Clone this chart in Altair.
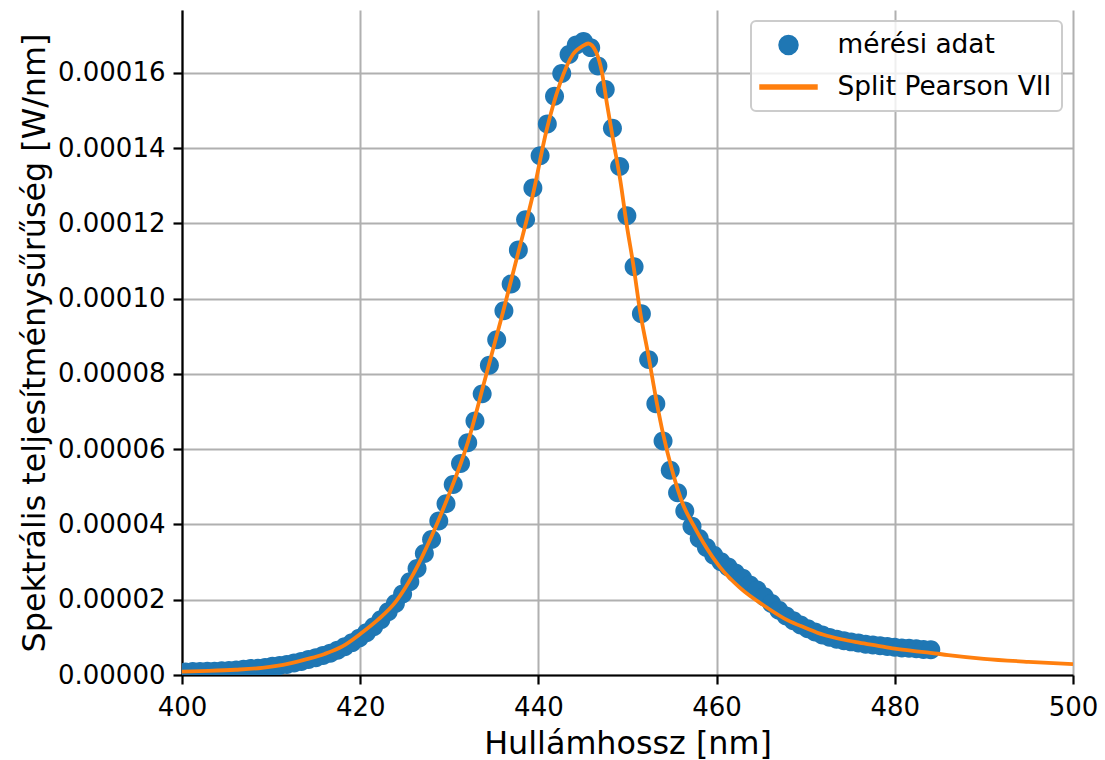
import altair as alt
import pandas as pd

# ---- measured data (x in nm, y in units of 1e-5 W/nm) ----
x_meres = [400.40, 401.21, 402.02, 402.84, 403.65, 404.46, 405.27, 406.08, 406.90, 407.71,
           408.52, 409.33, 410.14, 410.96, 411.77, 412.58, 413.39, 414.20, 415.02, 415.83,
           416.64, 417.45, 418.26, 419.08, 419.89, 420.70, 421.51, 422.32, 423.14, 423.95,
           424.76, 425.57, 426.38, 427.20, 428.01, 428.82, 429.63, 430.44, 431.26, 432.07,
           432.88, 433.69, 434.50, 435.32, 436.13, 436.94, 437.75, 438.56, 439.38, 440.19,
           441.00, 441.81, 442.62, 443.44, 444.25, 445.06, 445.87, 446.68, 447.50, 448.31,
           449.12, 449.93, 450.74, 451.56, 452.37, 453.18, 453.99, 454.80, 455.62, 456.43,
           457.24, 458.05, 458.86, 459.68, 460.49, 461.30, 462.11, 462.92, 463.74, 464.55,
           465.36, 466.17, 466.98, 467.80, 468.61, 469.42, 470.23, 471.04, 471.86, 472.67,
           473.48, 474.29, 475.10, 475.92, 476.73, 477.54, 478.35, 479.16, 479.98, 480.79,
           481.60, 482.41, 483.22, 484.04]
y_meres_e5 = [0.08, 0.09, 0.09, 0.10, 0.10, 0.11, 0.12, 0.13, 0.15, 0.17,
              0.18, 0.20, 0.23, 0.25, 0.28, 0.32, 0.36, 0.41, 0.46, 0.52,
              0.58, 0.66, 0.75, 0.86, 0.98, 1.12, 1.28, 1.47, 1.68, 1.90,
              2.15, 2.48, 2.83, 3.23, 3.60, 4.09, 4.55, 5.06, 5.62, 6.17,
              6.75, 7.47, 8.23, 8.91, 9.68, 10.39, 11.29, 12.10, 12.94, 13.80,
              14.64, 15.38, 15.98, 16.49, 16.74, 16.83, 16.67, 16.18, 15.56, 14.53,
              13.51, 12.20, 10.85, 9.60, 8.38, 7.21, 6.22, 5.44, 4.84, 4.36,
              3.95, 3.63, 3.39, 3.18, 3.01, 2.87, 2.71, 2.57, 2.39, 2.26,
              2.08, 1.90, 1.72, 1.57, 1.44, 1.33, 1.23, 1.14, 1.06, 1.00,
              0.95, 0.91, 0.88, 0.85, 0.82, 0.80, 0.78, 0.76, 0.74, 0.72,
              0.71, 0.70, 0.68, 0.67]

# ---- fitted Split Pearson VII curve ----
x_fit = [400, 403, 406, 409, 412, 414, 416, 418, 420, 422, 424, 426, 428, 430, 432, 434,
         436, 437.7, 439.4, 440.9, 442.4, 443.9, 445.0, 445.6, 446.5, 447.1, 447.7, 448.4,
         449.2, 449.9, 450.7, 451.4, 452.3, 453.3, 454.0, 455.0, 456.2, 457.4, 458.5, 460.4,
         462.6, 465.6, 468, 470, 472, 474, 476, 478, 480, 482, 484, 486, 490, 495, 500]
y_fit_e5 = [0.09, 0.11, 0.14, 0.19, 0.30, 0.42, 0.56, 0.76, 1.09, 1.47, 1.95, 2.70, 3.68, 4.82, 6.12, 7.85,
            9.62, 11.19, 12.78, 14.46, 15.70, 16.50, 16.72, 16.78, 16.54, 16.05, 15.17, 14.20,
            13.13, 11.98, 10.83, 9.68, 8.55, 7.22, 6.40, 5.45, 4.55, 3.98, 3.52, 2.86,
            2.32, 1.80, 1.45, 1.25, 1.07, 0.95, 0.86, 0.78, 0.70, 0.64, 0.59, 0.53, 0.43, 0.35, 0.29]

UNIT = 1e-5
series_names = ["mérési adat", "Split Pearson VII"]
series_colors = ["#1f77b4", "#ff7f0e"]
x_ticks = [400, 420, 440, 460, 480, 500]
y_ticks = [0.0, 0.00002, 0.00004, 0.00006, 0.00008, 0.00010, 0.00012, 0.00014, 0.00016]

pts = pd.DataFrame({"x": x_meres, "y": [v * UNIT for v in y_meres_e5], "series": series_names[0]})
fit = pd.DataFrame({"x": x_fit, "y": [v * UNIT for v in y_fit_e5], "series": series_names[1]})

FONT = "DejaVu Sans"
# symbol shapes in the unit square, drawn at size 676 (26 px box)
circle_path = "M-0.73,0A0.73,0.73,0,1,1,0.73,0A0.73,0.73,0,1,1,-0.73,0Z"
line_path = "M-2.19,-0.154H2.19V0.154H-2.19Z"

xscale = alt.Scale(domain=[400, 500], nice=False, zero=False)
yscale = alt.Scale(domain=[0, 0.0001767], nice=False, zero=False)
cscale = alt.Scale(domain=series_names, range=series_colors)
sscale = alt.Scale(domain=series_names, range=[circle_path, line_path])

leg = alt.Legend(title=None, orient="top-right", offset=11, padding=10,
                 fillColor="rgba(255,255,255,0.8)", strokeColor="#cccccc",
                 cornerRadius=5, labelFont=FONT, labelFontSize=26.4, labelColor="black",
                 labelLimit=500, symbolSize=676, symbolOffset=13.5, labelOffset=35,
                 rowPadding=14)

xenc = alt.X("x:Q", scale=xscale,
             axis=alt.Axis(values=x_ticks, format="d", labelFlush=False,
                           title="Hullámhossz [nm]"))
yenc = alt.Y("y:Q", scale=yscale,
             axis=alt.Axis(values=y_ticks, format=".5f", labelFlush=False,
                           title="Spektrális teljesítménysűrűség [W/nm]"))

points = alt.Chart(pts).mark_point(filled=True, size=676, opacity=1, clip=True).encode(
    x=xenc, y=yenc,
    color=alt.Color("series:N", scale=cscale, legend=leg),
    shape=alt.Shape("series:N", scale=sscale, legend=leg),
)

line = alt.Chart(fit).mark_line(strokeWidth=3.8, clip=True, interpolate="monotone").encode(
    x=alt.X("x:Q", scale=xscale), y=alt.Y("y:Q", scale=yscale),
    color=alt.Color("series:N", scale=cscale, legend=None),
)

chart = alt.layer(points, line).properties(
    width=891, height=665,
    autosize=alt.AutoSizeParams(type="none"),
    padding={"left": 182, "top": 10, "right": 32, "bottom": 85},
    background="white",
).configure_view(stroke=None).configure_axis(
    domainColor="black", domainWidth=2.2, tickColor="black", tickWidth=2.2, tickSize=9,
    labelFont=FONT, labelFontSize=26, labelColor="black",
    titleFont=FONT, titleFontSize=31.8, titleFontWeight="normal", titleColor="black",
    gridColor="#b0b0b0", gridWidth=2, gridOpacity=1,
).configure_axisX(labelPadding=10, titlePadding=8).configure_axisY(
    labelPadding=8, titlePadding=6
).configure_legend(strokeWidth=2)

chart.save("out.html", embed_options={"renderer": "svg", "actions": False})
